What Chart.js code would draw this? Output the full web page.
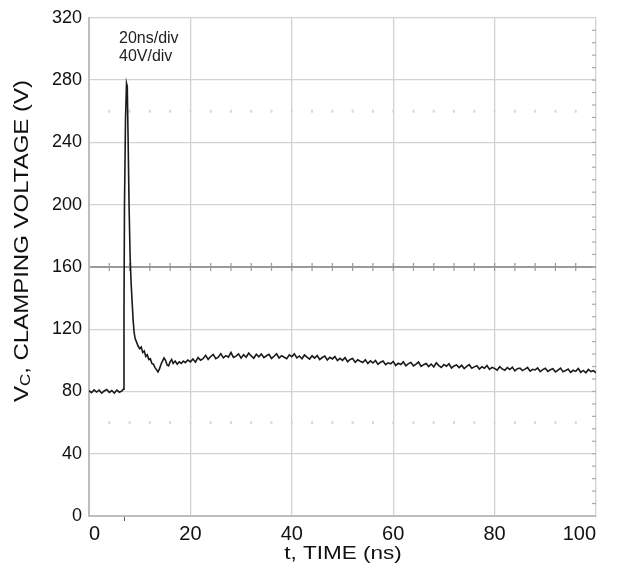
<!DOCTYPE html>
<html>
<head>
<meta charset="utf-8">
<script src="https://cdn.jsdelivr.net/npm/chart.js@4.4.0/dist/chart.umd.min.js"></script>
<style>
  html, body { margin: 0; padding: 0; background: #fff; }
  #wrap { width: 619px; height: 569px; }
</style>
</head>
<body>
<div id="wrap"><canvas id="chart" width="619" height="569"></canvas></div>
<script>
// scope trace: time (ns) and clamping voltage (V)
const timeNs = [
  0, 0.5, 1, 1.5, 2, 2.5, 3, 3.5, 4, 4.5, 5, 5.5, 6, 6.5,
  6.8, 6.9, 7.0, 7.2, 7.4, 7.55, 7.7, 7.9, 8.1, 8.3, 8.5, 8.7, 8.9, 9.1, 9.4, 9.7,
  10.0, 10.3, 10.6, 10.9, 11.2, 11.5, 11.8, 12.1, 12.4, 12.7, 13.0, 13.3, 13.6, 13.9,
  14.2, 14.5, 14.8, 15.1, 15.4, 15.7, 16.0, 16.3, 16.6, 17.0, 17.4, 17.8, 18.2, 18.6,
  19.0, 19.5, 20,
  20.5, 21, 21.5, 22, 22.5, 23, 23.5, 24, 24.5, 25, 25.5, 26, 26.5, 27, 27.5, 28, 28.5, 29, 29.5, 30,
  30.5, 31, 31.5, 32, 32.5, 33, 33.5, 34, 34.5, 35, 35.5, 36, 36.5, 37, 37.5, 38, 38.5, 39, 39.5, 40,
  40.5, 41, 41.5, 42, 42.5, 43, 43.5, 44, 44.5, 45, 45.5, 46, 46.5, 47, 47.5, 48, 48.5, 49, 49.5, 50,
  50.5, 51, 51.5, 52, 52.5, 53, 53.5, 54, 54.5, 55, 55.5, 56, 56.5, 57, 57.5, 58, 58.5, 59, 59.5, 60,
  60.5, 61, 61.5, 62, 62.5, 63, 63.5, 64, 64.5, 65, 65.5, 66, 66.5, 67, 67.5, 68, 68.5, 69, 69.5, 70,
  70.5, 71, 71.5, 72, 72.5, 73, 73.5, 74, 74.5, 75, 75.5, 76, 76.5, 77, 77.5, 78, 78.5, 79, 79.5, 80,
  80.5, 81, 81.5, 82, 82.5, 83, 83.5, 84, 84.5, 85, 85.5, 86, 86.5, 87, 87.5, 88, 88.5, 89, 89.5, 90,
  90.5, 91, 91.5, 92, 92.5, 93, 93.5, 94, 94.5, 95, 95.5, 96, 96.5, 97, 97.5, 98, 98.5, 99, 99.5, 100
];
const clampV = [
  80.5, 79.2, 81.0, 79.6, 80.8, 78.9, 80.3, 81.2, 79.4, 80.6, 79.0, 80.9, 79.5, 80.4,
  81.5, 130, 200, 255, 278, 276, 245, 200, 168, 150, 138, 126, 118, 114, 111.5, 109,
  107.5, 108.5, 105, 106, 102.5, 103.5, 100.5, 101, 98, 97.5, 95.5, 94, 92.5, 94.5,
  97.5, 99.5, 101.5, 100, 97, 96.5, 99, 100.5, 98, 99.5, 97.5, 99, 98, 99.5,
  98.5, 100.2, 99.0,
  100.9, 98.8, 101.7, 100.1, 101.0, 103.2, 100.6, 102.4, 103.8, 101.1, 102.0, 104.3, 101.6, 103.0, 102.1, 105.0, 101.9, 102.7, 104.1, 101.4,
  103.6, 102.0, 104.6, 102.8, 101.3, 103.9, 102.2, 104.0, 101.7, 102.9, 103.8, 101.2, 102.6, 104.2, 101.5, 103.0, 102.0, 101.1, 103.5, 102.3,
  104.1, 101.6, 102.8, 101.0, 103.4, 102.0, 100.8, 102.9, 101.4, 103.1, 100.5, 101.8, 102.7, 100.2, 101.9, 100.9, 102.4, 99.8, 101.3, 100.0,
  101.7, 99.1, 100.6, 101.2, 98.7, 100.3, 99.4, 98.6, 100.4, 97.9, 99.6, 98.3, 99.9, 97.4, 98.8, 99.5, 97.2, 98.4, 97.8, 99.3,
  96.7, 98.1, 97.3, 99.0, 96.5, 97.9, 98.6, 96.4, 97.5, 98.9, 96.1, 97.2, 98.0, 96.0, 97.6, 95.7, 98.4, 96.6, 95.4, 97.3,
  96.2, 97.8, 95.1, 96.4, 97.0, 95.3, 96.8, 94.7, 96.1, 97.2, 94.9, 95.8, 96.5, 94.4, 95.9, 94.9, 96.7, 94.2, 95.5, 94.8,
  93.7, 95.9, 94.5, 93.6, 95.3, 94.1, 95.6, 93.2, 94.6, 95.0, 93.4, 94.3, 95.4, 93.0, 94.2, 93.8, 95.1, 92.7, 94.0, 94.9,
  92.8, 93.9, 94.6, 92.5, 93.7, 95.0, 92.6, 93.4, 94.4, 92.2, 93.6, 92.9, 94.7, 92.3, 93.5, 92.0, 94.1, 92.8, 93.3, 91.9
];
const xTicks = [0, 20, 40, 60, 80, 100];
const yTicks = [0, 40, 80, 120, 160, 200, 240, 280, 320];
const scaleNotes = ['20ns/div', '40V/div'];
const xTitle = 't, TIME (ns)';

const FONT = '"Liberation Sans", Arial, sans-serif';

const scopeDecor = {
  id: 'scopeDecor',
  beforeDatasetsDraw(chart) {
    const { ctx, chartArea: a, scales: { x, y } } = chart;
    ctx.save();
    // centre line ticks
    const yc = y.getPixelForValue(160);
    ctx.strokeStyle = '#9a9a9a';
    ctx.lineWidth = 1.2;
    for (let t = 4; t < 100; t += 4) {
      const px = x.getPixelForValue(t);
      ctx.beginPath(); ctx.moveTo(px, yc - 4); ctx.lineTo(px, yc + 4); ctx.stroke();
    }
    // right edge ticks
    ctx.strokeStyle = '#aaaaaa';
    for (let v = 8; v < 320; v += 8) {
      const py = y.getPixelForValue(v);
      ctx.beginPath(); ctx.moveTo(a.right - 4, py); ctx.lineTo(a.right, py); ctx.stroke();
    }
    // faint dotted rows
    ctx.fillStyle = '#d8d8d8';
    [260, 60].forEach(v => {
      const py = y.getPixelForValue(v);
      for (let t = 4; t < 100; t += 4) {
        ctx.fillRect(x.getPixelForValue(t) - 1, py - 1.5, 2, 3);
      }
    });
    // trigger mark under the axis
    const tx = x.getPixelForValue(7);
    ctx.strokeStyle = '#555';
    ctx.lineWidth = 1;
    ctx.beginPath(); ctx.moveTo(tx, a.bottom + 1); ctx.lineTo(tx, a.bottom + 5); ctx.stroke();
    ctx.restore();
  },
  afterDraw(chart) {
    const { ctx, chartArea: a } = chart;
    ctx.save();
    ctx.fillStyle = '#222';
    ctx.font = '16px ' + FONT;
    ctx.textBaseline = 'alphabetic';
    ctx.fillText(scaleNotes[0], a.left + 30, 43);
    ctx.fillText(scaleNotes[1], a.left + 30, 61);

    // x title, slightly wide lettering like the original
    ctx.save();
    ctx.fillStyle = '#111';
    ctx.font = '18px ' + FONT;
    ctx.textAlign = 'center';
    ctx.textBaseline = 'alphabetic';
    ctx.translate(343, 559);
    ctx.scale(1.25, 1);
    ctx.fillText(xTitle, 0, 0);
    ctx.restore();

    // y title with subscript
    ctx.translate(22, 241);
    ctx.rotate(-Math.PI / 2);
    ctx.scale(1.2, 1);
    ctx.fillStyle = '#111';
    const big = '20px ' + FONT, small = '14px ' + FONT;
    ctx.font = big; const w1 = ctx.measureText('V').width;
    ctx.font = small; const w2 = ctx.measureText('C').width;
    ctx.font = big; const rest = ', CLAMPING VOLTAGE (V)'; const w3 = ctx.measureText(rest).width;
    let sx = -(w1 + w2 + w3) / 2;
    ctx.textBaseline = 'middle';
    ctx.font = big; ctx.fillText('V', sx, 0); sx += w1;
    ctx.font = small; ctx.fillText('C', sx, 4); sx += w2;
    ctx.font = big; ctx.fillText(rest, sx, 0);
    ctx.restore();
  }
};

new Chart(document.getElementById('chart'), {
  type: 'line',
  data: {
    datasets: [{
      data: timeNs.map((t, i) => ({ x: t, y: clampV[i] })),
      borderColor: '#1a1a1a',
      borderWidth: 1.6,
      pointRadius: 0,
      tension: 0,
      fill: false
    }]
  },
  options: {
    responsive: false,
    animation: false,
    layout: { padding: { top: 12, right: 23, left: 0, bottom: 0 } },
    plugins: { legend: { display: false }, tooltip: { enabled: false } },
    scales: {
      x: {
        type: 'linear',
        min: 0, max: 100,
        afterBuildTicks: s => { s.ticks = xTicks.map(v => ({ value: v })); },
        afterFit: s => { s.height = 53; },
        grid: { color: '#d2d2d2', lineWidth: 1.3, drawTicks: false },
        border: { display: true, color: '#bdbdbd', width: 2 },
        ticks: { color: '#111', font: { family: FONT, size: 20 }, padding: 6, maxRotation: 0, align: 'inner' }
      },
      y: {
        min: 0, max: 320,
        afterBuildTicks: s => { s.ticks = yTicks.map(v => ({ value: v })); },
        afterFit: s => { s.width = 89; },
        grid: {
          color: c => c.tick && c.tick.value === 160 ? '#9a9a9a' : '#d2d2d2',
          lineWidth: c => c.tick && c.tick.value === 160 ? 2 : 1.3,
          drawTicks: false
        },
        border: { display: true, color: '#bdbdbd', width: 2 },
        ticks: { color: '#111', font: { family: FONT, size: 18 }, padding: 7 }
      }
    }
  },
  plugins: [scopeDecor]
});
</script>
</body>
</html>
